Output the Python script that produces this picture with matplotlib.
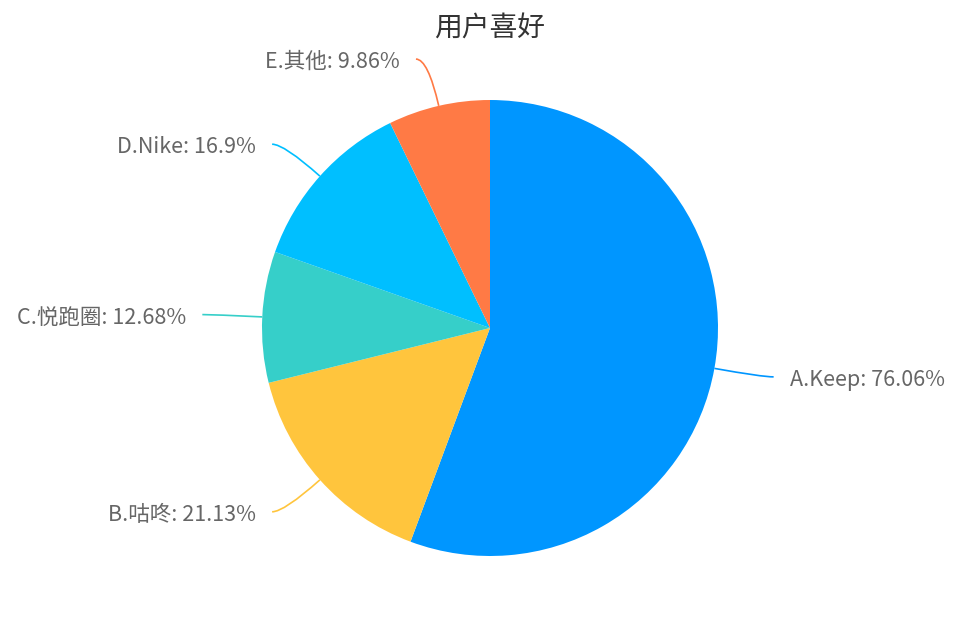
import numpy as np
import matplotlib
matplotlib.use("Agg")
import matplotlib.pyplot as plt
from matplotlib.path import Path
from matplotlib.patches import PathPatch

plt.rcParams['font.family'] = ['Noto Sans CJK SC', 'DejaVu Sans']

# données
labels = ['A.Keep', 'B.咕咚', 'C.悦跑圈', 'D.Nike', 'E.其他']
valeurs = [76.06, 21.13, 12.68, 16.9, 9.86]
couleurs = ['#0096FF', '#FFC53D', '#36CFC9', '#00BFFF', '#FF7A45']
titre = '用户喜好'

W, H = 966, 644
fig = plt.figure(figsize=(W / 100, H / 100), dpi=100)
ax = fig.add_axes([0, 0, 1, 1])
ax.set_xlim(0, W)
ax.set_ylim(0, H)
ax.set_aspect('equal')
ax.axis('off')

cx, cy, r = 490, H - 328, 228
wedges, _ = ax.pie(valeurs, colors=couleurs, startangle=90, counterclock=False,
                   center=(cx, cy), radius=r, frame=False,
                   wedgeprops=dict(linewidth=0))
ax.set_xlim(0, W)
ax.set_ylim(0, H)

# lignes de rappel + étiquettes
L1, L2, gap = 48, 12, 16
for w, lab, v, c in zip(wedges, labels, valeurs, couleurs):
    a = np.deg2rad((w.theta1 + w.theta2) / 2)
    d = np.array([np.cos(a), np.sin(a)])
    p0 = np.array([cx, cy]) + r * d
    p1 = np.array([cx, cy]) + (r + L1) * d
    s = 1 if d[0] >= 0 else -1
    p2 = p1 + np.array([s * L2, 0])
    path = Path([p0, p1, p2], [Path.MOVETO, Path.CURVE3, Path.CURVE3])
    ax.add_patch(PathPatch(path, fc='none', ec=c, lw=1.2))
    ax.text(p2[0] + s * gap, p2[1] - 3, f'{lab}: {v}%', fontsize=15.5, color='#666666',
            ha='left' if s > 0 else 'right', va='center')

ax.text(cx, H - 29, titre, fontsize=20, color='#333333', ha='center', va='center')

plt.savefig('out.png', dpi=100)
